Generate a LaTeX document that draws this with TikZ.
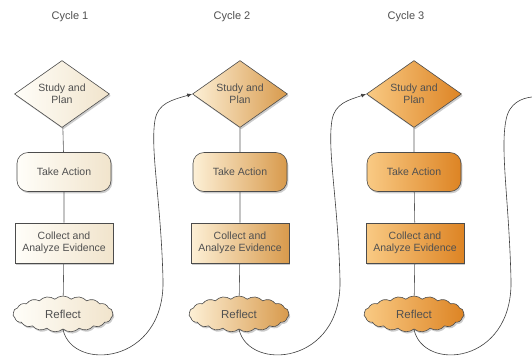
\documentclass[tikz,border=0pt]{standalone}
\usepackage{fontspec}
\setmainfont{Liberation Sans}
\usetikzlibrary{shapes.geometric,shapes.symbols,shadows,arrows.meta}
\definecolor{cAl}{HTML}{FFFEF9}
\definecolor{cAd}{HTML}{F1E4CC}
\definecolor{cBl}{HTML}{FDF0D6}
\definecolor{cBd}{HTML}{D89A4C}
\definecolor{cCl}{HTML}{F9CA84}
\definecolor{cCd}{HTML}{DD8424}
\definecolor{txt}{HTML}{505050}
\tikzset{
  base/.style={draw=black!70, line width=0.6pt, text=txt, align=center,
    font=\fontsize{10.5}{12}\selectfont,
    drop shadow={opacity=0.4, shadow xshift=1.3pt, shadow yshift=-1.8pt}},
  dia/.style={base, diamond, minimum width=95pt, minimum height=65pt, inner sep=0pt},
  act/.style={base, rectangle, rounded corners=11pt, minimum width=94pt, minimum height=39pt},
  colbox/.style={base, rectangle, minimum width=98pt, minimum height=40pt, inner sep=1pt},
  refl/.style={base, cloud, cloud puffs=19, cloud puff arc=85, aspect=3,
    minimum width=100pt, minimum height=36pt, inner sep=0pt,
    font=\fontsize{11.5}{13}\selectfont},
  sA/.style={left color=cAl, right color=cAd},
  sB/.style={left color=cBl, right color=cBd},
  sC/.style={left color=cCl, right color=cCd},
  link/.style={draw=black!65, line width=0.6pt},
  loop/.style={draw=black!75, line width=0.6pt},
  tip/.style={-{Latex[length=5pt,width=4pt]}},
  cyc/.style={text=txt, font=\fontsize{11}{13}\selectfont}
}
\begin{document}
\begin{tikzpicture}[x=1pt,y=-1pt]
\useasboundingbox[fill=white] (0,0) rectangle (532,360);
% labels
\node[cyc] (l1) at (70,17) {Cycle 1};
\node[cyc] (l2) at (232,17) {Cycle 2};
\node[cyc] (l3) at (406,17) {Cycle 3};
% column 1
\node[dia, sA] (d1) at (62,94) {Study and\\Plan};
\node[act, sA] (a1) at (64,172) {Take Action};
\node[colbox, sA] (c1) at (64,243) {Collect and\\Analyze Evidence};
\node[refl, sA] (r1) at (63,314) {Reflect};
% column 2
\node[dia, sB] (d2) at (240,94) {Study and\\Plan};
\node[act, sB] (a2) at (240,172) {Take Action};
\node[colbox, sB] (c2) at (240,243) {Collect and\\Analyze Evidence};
\node[refl, sB] (r2) at (239,314) {Reflect};
% column 3
\node[dia, sC] (d3) at (414,94) {Study and\\Plan};
\node[act, sC] (a3) at (414,172) {Take Action};
\node[colbox, sC] (c3) at (415,243) {Collect and\\Analyze Evidence};
\node[refl, sC] (r3) at (414,314) {Reflect};
\coordinate (e3) at (532,97);
% vertical links
\draw[link] (d1) -- (a1) (a1) -- (c1) (c1) -- (r1);
\draw[link] (d2) -- (a2) (a2) -- (c2) (c2) -- (r2);
\draw[link] (d3) -- (a3) (a3) -- (c3) (c3) -- (r3);
% loops
\draw[loop, tip] (r1.south) .. controls (72,372) and (165,365) .. (163,280)
  .. controls (161,200) and (150,150) .. (155,120)
  .. controls (158,103) and (172,100) .. (d2.west);
\draw[loop, tip] (r2.south) .. controls (249,372) and (342,365) .. (340,280)
  .. controls (338,200) and (327,150) .. (332,120)
  .. controls (335,103) and (349,100) .. (d3.west);
\draw[loop] (r3.south) .. controls (423,372) and (513,365) .. (511,280)
  .. controls (509,200) and (500,150) .. (506,120)
  .. controls (509,103) and (522,98) .. (e3);
\end{tikzpicture}
\end{document}
